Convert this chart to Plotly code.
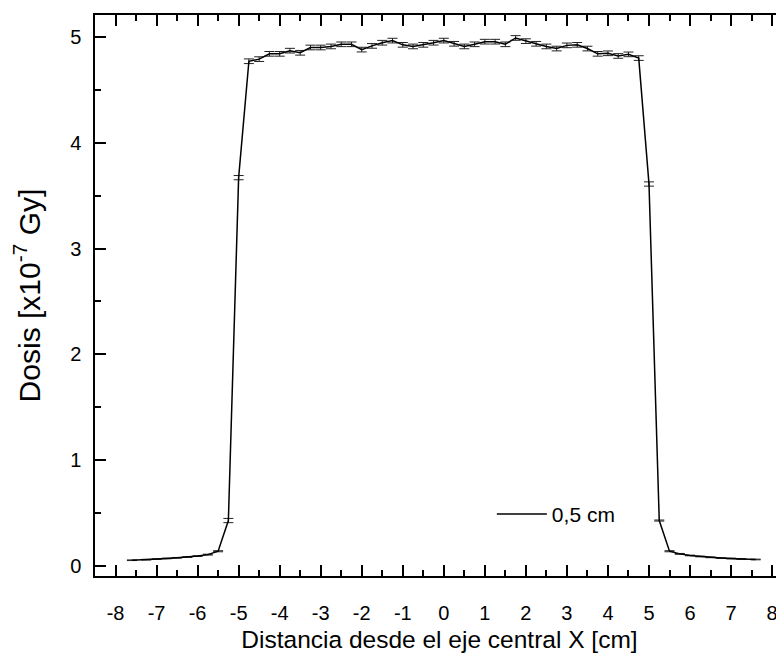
import plotly.graph_objects as go

# Distance from central axis X [cm]
x_cm = [-7.6, -7.25, -7.0, -6.75, -6.5, -6.25, -6.0, -5.75, -5.5, -5.25, -5.0,
        -4.75, -4.5, -4.25, -4.0, -3.75, -3.5, -3.25, -3.0, -2.75, -2.5,
        -2.25, -2.0, -1.75, -1.5, -1.25, -1.0, -0.75, -0.5, -0.25, 0.0,
        0.25, 0.5, 0.75, 1.0, 1.25, 1.5, 1.75, 2.0, 2.25, 2.5,
        2.75, 3.0, 3.25, 3.5, 3.75, 4.0, 4.25, 4.5, 4.75,
        5.0, 5.25, 5.5, 5.75, 6.0, 6.25, 6.5, 6.75, 7.0, 7.25, 7.6]

# Dose [x10^-7 Gy]
dose = [0.055, 0.060, 0.066, 0.072, 0.078, 0.085, 0.094, 0.108, 0.14, 0.43, 3.67,
        4.77, 4.79, 4.84, 4.84, 4.87, 4.85, 4.90, 4.90, 4.91, 4.93,
        4.93, 4.88, 4.915, 4.945, 4.965, 4.925, 4.91, 4.925, 4.945, 4.965,
        4.935, 4.91, 4.93, 4.955, 4.955, 4.93, 4.99, 4.96, 4.935, 4.91,
        4.89, 4.92, 4.925, 4.89, 4.84, 4.845, 4.82, 4.835, 4.80,
        3.61, 0.43, 0.14, 0.115, 0.10, 0.09, 0.082, 0.076, 0.071, 0.066, 0.062]

# Uncertainty
dose_err = [0.003, 0.003, 0.003, 0.003, 0.003, 0.003, 0.003, 0.004, 0.005, 0.02, 0.02,
            0.022, 0.022, 0.022, 0.022, 0.022, 0.022, 0.022, 0.022, 0.022, 0.022,
            0.022, 0.022, 0.022, 0.022, 0.022, 0.022, 0.022, 0.022, 0.022, 0.022,
            0.022, 0.022, 0.022, 0.022, 0.022, 0.022, 0.022, 0.022, 0.022, 0.022,
            0.022, 0.022, 0.022, 0.022, 0.022, 0.022, 0.022, 0.022, 0.022,
            0.02, 0.005, 0.005, 0.004, 0.003, 0.003, 0.003, 0.003, 0.003, 0.003, 0.003]

x_ticks = [-8, -7, -6, -5, -4, -3, -2, -1, 0, 1, 2, 3, 4, 5, 6, 7, 8]
y_ticks = [0, 1, 2, 3, 4, 5]

FONT = "Liberation Sans, Arial, sans-serif"

fig = go.Figure()
fig.add_trace(go.Scatter(
    x=x_cm, y=dose, mode="lines", name="0,5 cm",
    line=dict(color="black", width=1.5),
    error_y=dict(type="data", array=dose_err, color="#222222", thickness=1, width=5),
))

fig.update_layout(
    width=784, height=655,
    margin=dict(l=87, r=8, t=5, b=87),
    paper_bgcolor="white", plot_bgcolor="white",
    font=dict(family=FONT, color="black", size=20),
    showlegend=True,
    legend=dict(x=0.576, y=0.11, xanchor="left", yanchor="middle", itemwidth=50,
                bgcolor="rgba(0,0,0,0)", font=dict(size=21, family=FONT)),
    xaxis=dict(
        range=[-8.5, 8.29], tickvals=x_ticks, ticktext=[str(v) for v in x_ticks],
        ticks="inside", ticklen=11, tickwidth=1.5, tickcolor="black",
        showline=True, linewidth=1.5, linecolor="black", mirror="allticks",
        showgrid=False, zeroline=False,
        minor=dict(ticks="inside", ticklen=6, tickwidth=1.5, tickcolor="black", dtick=0.5, tick0=0),
        tickfont=dict(size=20, family=FONT),
        ticklabelstandoff=18,
        title=dict(text="Distancia desde el eje central X [cm]", font=dict(size=24.5, family=FONT), standoff=8),
    ),
    yaxis=dict(
        range=[-0.094, 5.207], tickvals=y_ticks,
        ticks="inside", ticklen=11, tickwidth=1.5, tickcolor="black",
        showline=True, linewidth=1.5, linecolor="black", mirror=False,
        showgrid=False, zeroline=False,
        minor=dict(ticks="inside", ticklen=6, tickwidth=1.5, tickcolor="black", dtick=0.5, tick0=0),
        tickfont=dict(size=20, family=FONT),
        ticklabelstandoff=8,
        title=dict(text="Dosis [x10<sup>-7</sup> Gy]", font=dict(size=30, family=FONT), standoff=21),
    ),
    yaxis2=dict(
        overlaying="y", side="right", range=[-0.094, 5.207], tickvals=y_ticks,
        ticks="inside", ticklen=3, tickwidth=1.5, tickcolor="black",
        showticklabels=False, showline=False, showgrid=False, zeroline=False,
    ),
)

fig.write_html("out.html")
